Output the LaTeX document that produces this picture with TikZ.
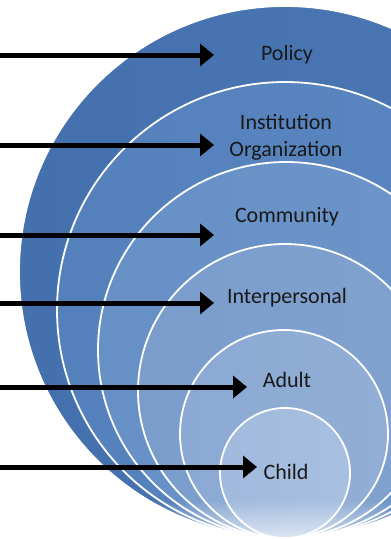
\documentclass[tikz,border=0pt]{standalone}
\usepackage{fontspec}
\setmainfont{Carlito}
\usetikzlibrary{arrows.meta,fadings}
\tikzfading[name=fadedown, top color=transparent!100, bottom color=transparent!35]
\definecolor{cA}{HTML}{4471AE}
\definecolor{cAl}{HTML}{4B78B5}
\definecolor{cB}{HTML}{5480BC}
\definecolor{cBl}{HTML}{5A86C0}
\definecolor{cC}{HTML}{6690C6}
\definecolor{cCl}{HTML}{6D95C9}
\definecolor{cD}{HTML}{7A9DCC}
\definecolor{cDl}{HTML}{81A2CF}
\definecolor{cE}{HTML}{8BA9D3}
\definecolor{cEl}{HTML}{92AED6}
\definecolor{cF}{HTML}{A1BADD}
\definecolor{cFl}{HTML}{A7BFE0}
\tikzset{
  ring/.style={draw=white, line width=1.8pt},
  lbl/.style={font=\fontsize{22}{27}\selectfont, text=black!90, align=center, inner sep=0pt},
  arr/.style={line width=5pt, -{Triangle[length=14pt,width=22pt]}, black}
}
\begin{document}
\begin{tikzpicture}[x=1pt,y=-1pt]
\useasboundingbox (0,0) rectangle (391,539);
\begin{scope}
\clip (0,0) rectangle (391,539);
\shade[ring, left color=cA, right color=cAl] (285,272) circle (266);
\shade[ring, left color=cB, right color=cBl] (285,310) circle (228);
\shade[ring, left color=cC, right color=cCl] (286,350) circle (188);
\shade[ring, left color=cD, right color=cDl] (285,391) circle (147);
\shade[ring, left color=cE, right color=cEl] (284,434) circle (104);
\shade[ring, left color=cF, right color=cFl] (285,473) circle (65);
\fill[white, path fading=fadedown] (0,500) rectangle (391,540);
\end{scope}
\node[lbl] (policy) at (287,55) {Policy};
\node[lbl] (inst) at (286,137) {Institution\\Organization};
\node[lbl] (comm) at (287,217) {Community};
\node[lbl] (inter) at (287,298) {Interpersonal};
\node[lbl] (adult) at (287,380) {Adult};
\node[lbl] (child) at (286,472) {Child};
\coordinate (s1) at (0,55);  \coordinate (t1) at (214,55);
\coordinate (s2) at (0,145); \coordinate (t2) at (214,145);
\coordinate (s3) at (0,235); \coordinate (t3) at (214,235);
\coordinate (s4) at (0,303); \coordinate (t4) at (214,303);
\coordinate (s5) at (0,387); \coordinate (t5) at (247,387);
\coordinate (s6) at (0,467); \coordinate (t6) at (257,467);
\draw[arr] (s1) -- (t1);
\draw[arr] (s2) -- (t2);
\draw[arr] (s3) -- (t3);
\draw[arr] (s4) -- (t4);
\draw[arr] (s5) -- (t5);
\draw[arr] (s6) -- (t6);
\end{tikzpicture}
\end{document}
